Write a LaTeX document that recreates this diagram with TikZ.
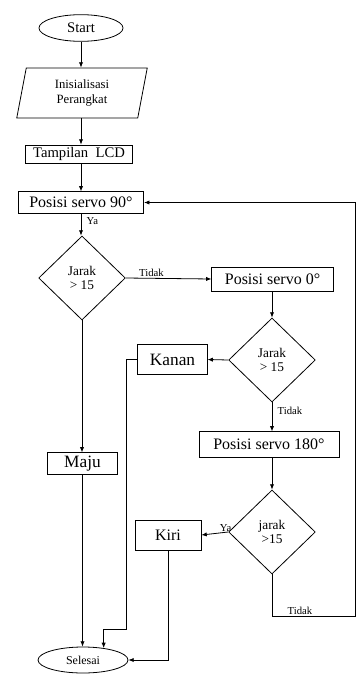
\documentclass[tikz,border=0pt]{standalone}
\usepackage{fontspec}
\setmainfont{Liberation Serif}
\usetikzlibrary{shapes.geometric,arrows.meta}

\tikzset{
  box/.style={draw, rectangle, inner sep=0pt, font=\fontsize{12}{13}\selectfont},
  cond/.style={draw, diamond, inner sep=0pt, align=center, minimum width=65pt, minimum height=63pt, font=\fontsize{10}{11}\selectfont},
  term/.style={draw, ellipse, inner sep=0pt},
  io/.style={draw, trapezium, trapezium left angle=80, trapezium right angle=100, trapezium stretches=true, inner sep=0pt, align=center},
  arr/.style={-{Latex[length=4pt,width=3.2pt]}},
  lbl/.style={font=\fontsize{8}{9}\selectfont, inner sep=1pt},
}

\begin{document}
\begin{tikzpicture}[x=0.75pt, y=-0.75pt, line width=0.6pt]
    \useasboundingbox (0,0) rectangle (358,675);

    % main column
    \node[term, minimum width=63pt, minimum height=20pt, font=\fontsize{11}{12}\selectfont] (start) at (81,28) {Start};
    \node[io, minimum width=98pt, minimum height=37.5pt, font=\fontsize{9.5}{11}\selectfont] (init) at (82,93) {Inisialisasi\\Perangkat};
    \node[box, minimum width=80pt, minimum height=13.5pt, font=\fontsize{11}{12}\selectfont] (lcd) at (79,154) {Tampilan\ \ LCD};
    \node[box, minimum width=94pt, minimum height=16pt] (p90) at (81,202.5) {Posisi servo 90°};
    \node[cond] (d1) at (82,278) {Jarak\\> 15};
    \node[box, minimum width=52pt, minimum height=16pt, font=\fontsize{13}{14}\selectfont] (maju) at (82.5,463.5) {Maju};
    \node[term, minimum width=67.5pt, minimum height=19.5pt, font=\fontsize{9}{10}\selectfont] (selesai) at (83,660) {Selesai};

    % right column
    \node[box, minimum width=91pt, minimum height=18pt] (p0) at (272.5,279) {Posisi servo 0°};
    \node[cond] (d2) at (272,360) {Jarak\\> 15};
    \node[box, minimum width=52pt, minimum height=22pt, font=\fontsize{13}{14}\selectfont] (kanan) at (172.5,359.5) {Kanan};
    \node[box, minimum width=105pt, minimum height=19pt] (p180) at (269,444.5) {Posisi servo 180°};
    \node[cond] (d3) at (272,532) {jarak\\>15};
    \node[box, minimum width=49.5pt, minimum height=22.5pt] (kiri) at (168,535) {Kiri};

    \coordinate (kbend) at (126,629);
    \coordinate (rbend) at (355,616);

    \draw[arr] (start.south) -- (start.south |- init.north);
    \draw[arr] (start.south |- init.south) -- (start.south |- lcd.north);
    \draw[arr] (start.south |- lcd.south) -- (start.south |- p90.north);
    \draw[arr] (start.south |- p90.south) -- (start.south |- d1.north) node[lbl, pos=0.35, right=3pt] {Ya};
    \draw[arr] (d1.east) -- (p0.west) node[lbl, pos=0.3, above] {Tidak};
    \draw[arr] (p0.south -| d2.north) -- (d2.north);
    \draw[arr] (d2.west) -- (kanan.east);
    \draw[arr] (d2.south) -- (d2.south |- p180.north) node[lbl, pos=0.3, right=3pt] {Tidak};
    \draw[arr] (d3.north |- p180.south) -- (d3.north);
    \draw[arr] (d3.west) -- (kiri.east) node[lbl, pos=0.1, above=-1pt] {Ya};
    \draw[arr] (d1.south) -- (d1.south |- maju.north);
    \draw[arr] (maju.south) -- (selesai.north -| maju.south);
    \draw[arr] (kanan.west) -| (kbend) -| (selesai.30);
    \draw[arr] (kiri.south) |- (selesai.east);
    \draw[arr] (d3.south) |- (rbend) |- (p90.east);
    \node[lbl, anchor=south west] (tlbl) at (286,616) {Tidak};
\end{tikzpicture}
\end{document}
